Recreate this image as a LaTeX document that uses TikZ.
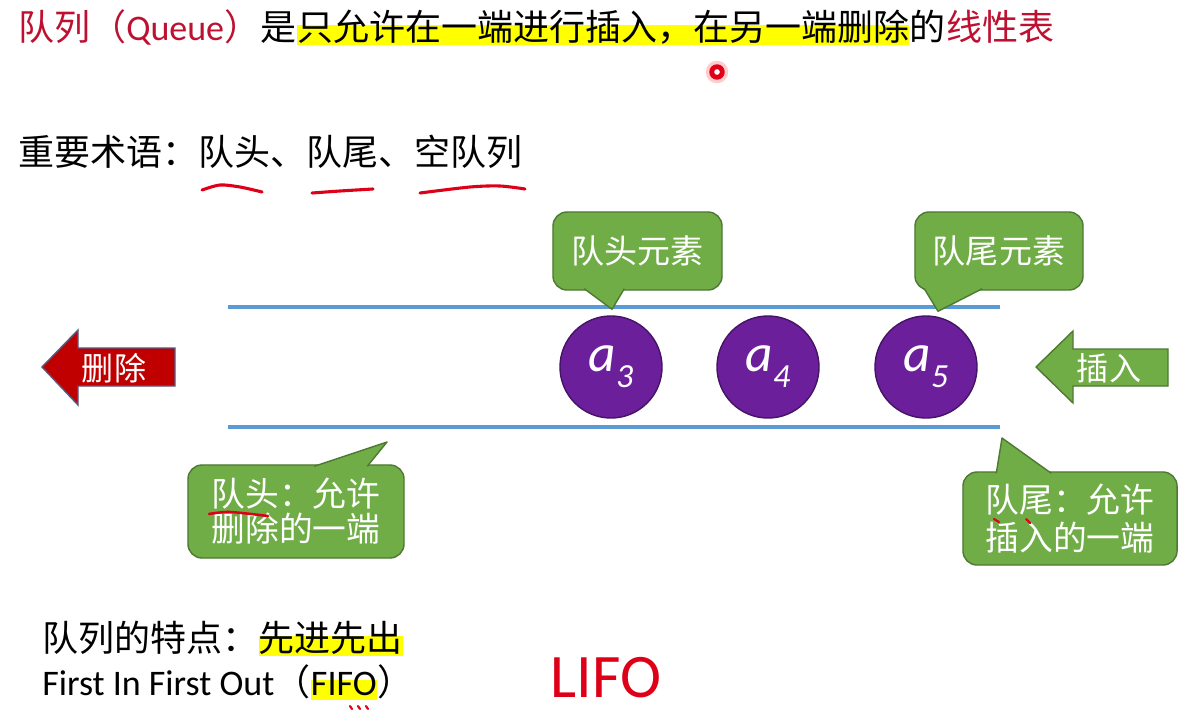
\documentclass[tikz,border=0pt]{standalone}
\usepackage{fontspec}
\setmainfont{Noto Sans CJK SC}
\newfontfamily\calibri{Carlito}
\usetikzlibrary{positioning,calc}
\definecolor{qred}{RGB}{190,16,48}
\definecolor{hlyellow}{RGB}{255,255,0}
\definecolor{qblue}{RGB}{91,155,213}
\definecolor{qpurple}{RGB}{107,31,155}
\definecolor{qgreen}{RGB}{112,173,71}
\definecolor{delred}{RGB}{192,0,0}
\definecolor{penred}{RGB}{222,0,24}

\begin{document}
\begin{tikzpicture}[x=0.025cm,y=-0.025cm,
  txt/.style={inner sep=0pt,text height=.88em,text depth=.12em,font=\fontsize{25.6}{30}\selectfont},
  hl/.style={fill=hlyellow,inner ysep=2pt},
  lane/.style={draw=qblue,line width=2.8pt},
  elem/.style={circle,fill=qpurple,draw=qpurple!65!black,line width=1pt,minimum size=2.55cm,
    inner sep=0pt,text=white,font=\calibri\itshape\fontsize{38}{38}\selectfont},
  note/.style={draw=qgreen!70!black,fill=qgreen,rounded corners=10pt,line width=1pt,
    text=white,inner sep=0pt,font=\fontsize{23.5}{26}\selectfont},
  calltip/.style={fill=qgreen,draw=qgreen!70!black,line width=1pt,line join=round},
  bigarrow/.style={line width=1pt,line join=miter},
  ink/.style={draw=penred,line width=2.2pt,line cap=round},
]
  \useasboundingbox[fill=white] (0,0) rectangle (1181,710);

  % title line
  \node[txt,text=qred,anchor=west] (t1) at (18,35) {队列（{\calibri Queue}）};
  \node[txt,right=0pt of t1] (t2) {是};
  \node[txt,hl,right=0pt of t2] (t3) {只允许在一端进行插入，在另一端删除};
  \node[txt,right=0pt of t3] (t4) {的};
  \node[txt,text=qred,right=0pt of t4] (t5) {线性表};
  \fill[red!20] (717,72) circle[radius=8pt];
  \fill[penred] (717,72) circle[radius=5.5pt];
  \fill[white] (717,72) circle[radius=2pt];

  % terms
  \node[txt,anchor=west] (terms) at (18,160) {重要术语：队头、队尾、空队列};
  \draw[ink] plot[smooth] coordinates {(202,190) (220,185) (240,187) (262,192)};
  \draw[ink] plot[smooth] coordinates {(312,193) (340,191) (373,189)};
  \draw[ink] plot[smooth] coordinates {(420,193) (470,187) (500,186) (525,189)};

  % queue body
  \coordinate (ql) at (228,307); \coordinate (qr) at (1000,307);
  \coordinate (bl) at (228,427); \coordinate (br) at (1000,427);
  \draw[lane] (ql) -- (qr);
  \draw[lane] (bl) -- (br);

  \node[elem] (a3) at (611,367) {a\raisebox{-.3em}{\fontsize{24}{24}\selectfont 3}};
  \node[elem] (a4) at (768,367) {a\raisebox{-.3em}{\fontsize{24}{24}\selectfont 4}};
  \node[elem] (a5) at (926,367) {a\raisebox{-.3em}{\fontsize{24}{24}\selectfont 5}};

  % callouts above
  \node[note,minimum width=4.225cm,minimum height=1.95cm] (headel) at (637.5,251) {队头元素};
  \coordinate (headtip) at ($(a3.north)+(1,-6)$);
  \filldraw[calltip] ($(headel.south west)+(32,-2)$) -- (headtip) -- ($(headel.south west)+(72,-2)$);
  \node[note,minimum width=4.2cm,minimum height=1.95cm] (tailel) at (999,251) {队尾元素};
  \coordinate (tailtip) at ($(a5.north)+(12,-4)$);
  \filldraw[calltip] ($(tailel.south west)+(10,-2)$) -- (tailtip) -- ($(tailel.south west)+(68,-2)$);

  % callouts below
  \node[note,minimum width=5.4cm,minimum height=2.325cm,align=left,font=\fontsize{24}{25}\selectfont]
    (headnote) at (296,511.5) {队头：允许\\删除的一端};
  \coordinate (headend) at (387,442);
  \filldraw[calltip] ($(headnote.north west)+(127,2)$) -- (headend) -- ($(headnote.north west)+(180,2)$);
  \node[note,minimum width=5.35cm,minimum height=2.325cm,align=left,font=\fontsize{24}{27.5}\selectfont]
    (tailnote) at (1070,518.5) {队尾：允许\\插入的一端};
  \coordinate (tailend) at ($(br)+(2,11)$);
  \filldraw[calltip] ($(tailnote.north west)+(34,2)$) -- (tailend) -- ($(tailnote.north west)+(89,2)$);
  \draw[ink,line width=1.8pt] plot[smooth] coordinates {(209,514) (230,512) (268,516)};
  \draw[ink,line width=1.5pt] (994,519) -- (999,522);
  \draw[ink,line width=1.5pt] (1026,519) -- (1030,523);

  % delete / insert arrows
  \filldraw[bigarrow,fill=delred,draw=black!50!blue!30!gray] (175,348) -- (78,348) -- (78,330) -- (42,367)
    -- (78,405) -- (78,386) -- (175,386) -- cycle;
  \node[text=white,inner sep=0pt,font=\fontsize{22.8}{24}\selectfont] (del) at (114,368) {删除};
  \filldraw[bigarrow,fill=qgreen,draw=qgreen!70!black] (1168,349) -- (1073,349) -- (1073,331) -- (1036,367)
    -- (1073,403) -- (1073,386) -- (1168,386) -- cycle;
  \node[text=white,inner sep=0pt,font=\fontsize{22.8}{24}\selectfont] (ins) at (1109,368) {插入};

  % features
  \node[txt,anchor=west] (feat) at (42,646) {队列的特点：};
  \node[txt,hl,right=0pt of feat] (fast) {先进先出};
  \node[txt,anchor=west] (fifo1) at (42,690) {{\calibri First In First Out}（};
  \node[txt,hl,right=0pt of fifo1] (fifo2) {\calibri FIFO};
  \node[txt,right=0pt of fifo2] (fifo3) {）};
  \draw[ink,line width=1.5pt] (350,706) -- (352,709) (358,706) -- (360,709) (366,706) -- (368,709);
  \node[text=penred,inner sep=0pt,font=\calibri\fontsize{44}{44}\selectfont] (lifo) at (606,678) {LIFO};
\end{tikzpicture}
\end{document}
